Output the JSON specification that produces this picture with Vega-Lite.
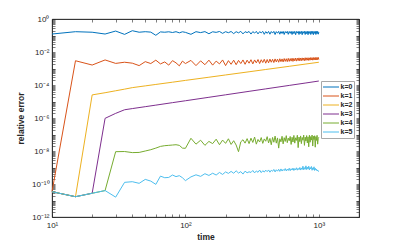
{
"$schema": "https://vega.github.io/schema/vega-lite/v6.json",
"width": 307, "height": 198,
"autosize": {"type": "none"},
"padding": {"left": 52, "top": 19, "right": 38, "bottom": 28},
"background": "white",
"config": {
  "font": "Liberation Sans",
  "view": {"stroke": "#262626", "strokeWidth": 0.8},
  "axis": {"domainColor": "#262626", "tickColor": "#262626", "labelColor": "#262626", "titleColor": "#262626", "labelFont": "Liberation Sans", "labelFontSize": 8, "titleFont": "Liberation Sans", "titleFontSize": 8.5, "titleFontWeight": "bold", "grid": false, "tickSize": -3, "domainWidth": 0.8, "tickWidth": 0.6, "labelOverlap": false, "labelFlush": false, "labelBound": false}
},
"data": {"values": [
{"t":10,"k=0":0.123,"k=1":3.4e-11,"k=2":3.4e-11,"k=3":3.4e-11,"k=4":3.4e-11,"k=5":3.4e-11},
{"t":15,"k=0":0.17,"k=1":2.95e-3,"k=2":1.7e-11,"k=3":1.7e-11,"k=4":1.7e-11,"k=5":1.7e-11},
{"t":20,"k=0":0.158,"k=1":1.62e-3,"k=2":2.51e-5,"k=3":2.75e-11,"k=4":2.75e-11,"k=5":2.75e-11},
{"t":25,"k=0":0.123,"k=1":3.3e-3,"k=2":3.4e-5,"k=3":9.55e-7,"k=4":4.0e-11,"k=5":4.0e-11},
{"t":30,"k=0":0.186,"k=1":2.04e-3,"k=2":4.47e-5,"k=3":1.91e-6,"k=4":9.1e-9,"k=5":1.6e-11},
{"t":35,"k=0":0.117,"k=1":2.4e-3,"k=2":5.6e-5,"k=3":3.16e-6,"k=4":9.3e-9,"k=5":1.26e-10},
{"t":40,"k=0":0.195,"k=1":2.1e-3,"k=2":6.92e-5,"k=3":3.72e-6,"k=4":8.0e-9,"k=5":1.38e-10},
{"t":45,"k=0":0.158,"k=1":1.5e-3,"k=4":8.2e-9,"k=5":1.1e-10},
{"t":50,"k=0":0.17,"k=1":2.6e-3,"k=2":8.85e-5,"k=3":4.85e-6,"k=4":1.0e-8,"k=5":1.9e-10},
{"t":55,"k=0":0.16,"k=1":2.0e-3,"k=4":1.2e-8,"k=5":1.5e-10},
{"t":60,"k=0":0.103,"k=1":3.2e-3,"k=2":1.08e-4,"k=3":6.03e-6,"k=4":1.5e-8,"k=5":9.5e-11},
{"t":65,"k=0":0.165,"k=1":1.9e-3,"k=4":1.9e-8,"k=5":3.0e-10},
{"t":70,"k=0":0.158,"k=1":2.5e-3,"k=4":2.1e-8,"k=5":2.4e-10},
{"t":75,"k=0":0.168,"k=1":1.6e-3,"k=4":2.2e-8,"k=5":2.5e-10},
{"t":80,"k=0":0.152,"k=1":3.0e-3,"k=2":1.48e-4,"k=3":8.51e-6,"k=4":2.3e-8,"k=5":3.5e-10},
{"t":85,"k=0":0.17,"k=1":2.2e-3,"k=4":2.4e-8,"k=5":2.8e-10},
{"t":90,"k=0":0.145,"k=1":1.45e-3,"k=4":2.2e-8,"k=5":3.2e-10},
{"t":95,"k=0":0.168,"k=1":2.8e-3,"k=4":1.5e-8,"k=5":2.4e-10},
{"t":100,"k=0":0.155,"k=1":2.0e-3,"k=2":1.9e-4,"k=3":1.11e-5,"k=4":1.45e-8,"k=5":1.6e-10},
{"t":110,"k=0":0.118,"k=1":3.1e-3,"k=4":5.9e-8,"k=5":2.7e-10},
{"t":120,"k=0":0.17,"k=1":1.5e-3,"k=4":2.6e-8,"k=5":3.6e-10},
{"t":130,"k=0":0.15,"k=1":2.9e-3,"k=4":4.5e-8,"k=5":2.9e-10},
{"t":140,"k=0":0.172,"k=1":1.7e-3,"k=4":2.2e-8,"k=5":4.2e-10},
{"t":150,"k=0":0.128,"k=1":3.2e-3,"k=2":2.96e-4,"k=3":1.80e-5,"k=4":3.8e-8,"k=5":3.3e-10},
{"t":160,"k=0":0.168,"k=1":1.6e-3,"k=4":2.8e-8,"k=5":4.5e-10},
{"t":170,"k=0":0.155,"k=1":2.8e-3,"k=4":5.2e-8,"k=5":3.5e-10},
{"t":180,"k=0":0.175,"k=1":1.9e-3,"k=4":2.4e-8,"k=5":5.0e-10},
{"t":190,"k=0":0.135,"k=1":3.3e-3,"k=4":4.6e-8,"k=5":3.8e-10},
{"t":200,"k=0":0.17,"k=1":1.5e-3,"k=2":4.06e-4,"k=3":2.54e-5,"k=4":2.9e-8,"k=5":5.4e-10},
{"t":210,"k=0":0.148,"k=1":3.0e-3,"k=4":5.5e-8,"k=5":4.4e-10},
{"t":220,"k=0":0.175,"k=1":1.8e-3,"k=4":2.5e-8,"k=5":5.8e-10},
{"t":230,"k=0":0.13,"k=1":3.2e-3,"k=4":4.2e-8,"k=5":4.5e-10},
{"t":240,"k=0":0.17,"k=1":1.7e-3,"k=4":2.3e-8,"k=5":6.3e-10},
{"t":250,"k=0":0.145,"k=1":3.1e-3,"k=4":9.1e-9,"k=5":4.6e-10},
{"t":260,"k=0":0.178,"k=1":2.0e-3,"k=4":3.6e-8,"k=5":5.6e-10},
{"t":270,"k=0":0.125,"k=1":3.3e-3,"k=4":4.8e-8,"k=5":4.0e-10},
{"t":280,"k=0":0.17,"k=1":1.8e-3,"k=4":3.0e-8,"k=5":6.0e-10},
{"t":290,"k=0":0.15,"k=1":3.2e-3,"k=4":5.6e-8,"k=5":4.8e-10},
{"t":300,"k=0":0.175,"k=1":2.1e-3,"k=2":6.34e-4,"k=3":4.13e-5,"k=4":2.8e-8,"k=5":5.5e-10},
{"t":310,"k=0":0.122,"k=1":3.4e-3,"k=4":6.0e-8,"k=5":5.0e-10},
{"t":320,"k=0":0.172,"k=1":1.9e-3,"k=4":3.3e-8,"k=5":6.6e-10},
{"t":330,"k=0":0.14,"k=1":3.3e-3,"k=4":7.0e-8,"k=5":4.7e-10},
{"t":340,"k=0":0.178,"k=1":2.2e-3,"k=4":2.6e-8,"k=5":6.2e-10},
{"t":350,"k=0":0.125,"k=1":3.5e-3,"k=4":5.0e-8,"k=5":5.1e-10},
{"t":360,"k=0":0.17,"k=1":2.0e-3,"k=4":3.5e-8,"k=5":7.0e-10},
{"t":370,"k=0":0.145,"k=1":3.4e-3,"k=4":6.5e-8,"k=5":4.9e-10},
{"t":380,"k=0":0.178,"k=1":2.3e-3,"k=4":2.9e-8,"k=5":6.4e-10},
{"t":390,"k=0":0.118,"k=1":3.6e-3,"k=4":5.4e-8,"k=5":5.3e-10},
{"t":400,"k=0":0.172,"k=1":2.1e-3,"k=2":8.71e-4,"k=3":5.82e-5,"k=4":3.9e-8,"k=5":6.9e-10},
{"t":410,"k=0":0.135,"k=1":3.5e-3,"k=4":7.4e-8,"k=5":5.6e-10},
{"t":420,"k=0":0.176,"k=1":2.2e-3,"k=4":3.1e-8,"k=5":7.1e-10},
{"t":430,"k=0":0.12,"k=1":3.7e-3,"k=4":5.8e-8,"k=5":5.2e-10},
{"t":440,"k=0":0.174,"k=1":2.4e-3,"k=4":2.4e-8,"k=5":6.8e-10},
{"t":450,"k=0":0.14,"k=1":3.6e-3,"k=4":6.6e-8,"k=5":5.9e-10},
{"t":460,"k=0":0.178,"k=1":2.3e-3,"k=4":3.4e-8,"k=5":7.6e-10},
{"t":470,"k=0":0.115,"k=1":3.8e-3,"k=4":8.0e-8,"k=5":5.4e-10},
{"t":480,"k=0":0.172,"k=1":2.5e-3,"k=4":3.0e-8,"k=5":7.3e-10},
{"t":490,"k=0":0.138,"k=1":3.7e-3,"k=4":6.2e-8,"k=5":6.0e-10},
{"t":500,"k=0":0.178,"k=1":2.4e-3,"k=4":1.5e-8,"k=5":7.8e-10},
{"t":510,"k=0":0.12,"k=1":3.9e-3,"k=4":5.5e-8,"k=5":5.8e-10},
{"t":520,"k=0":0.175,"k=1":2.6e-3,"k=4":3.6e-8,"k=5":8.2e-10},
{"t":530,"k=0":0.132,"k=1":3.8e-3,"k=4":7.8e-8,"k=5":6.1e-10},
{"t":540,"k=0":0.178,"k=1":2.5e-3,"k=4":2.7e-8,"k=5":7.6e-10},
{"t":550,"k=0":0.115,"k=1":4.0e-3,"k=4":6.4e-8,"k=5":6.5e-10},
{"t":560,"k=0":0.174,"k=1":2.7e-3,"k=4":3.8e-8,"k=5":8.6e-10},
{"t":570,"k=0":0.14,"k=1":3.9e-3,"k=4":8.5e-8,"k=5":6.2e-10},
{"t":580,"k=0":0.178,"k=1":2.6e-3,"k=4":3.2e-8,"k=5":8.0e-10},
{"t":590,"k=0":0.118,"k=1":4.1e-3,"k=4":6.0e-8,"k=5":6.6e-10},
{"t":600,"k=0":0.175,"k=1":2.7e-3,"k=2":1.36e-3,"k=3":9.44e-5,"k=4":4.2e-8,"k=5":9.0e-10},
{"t":610,"k=0":0.135,"k=1":4.0e-3,"k=4":7.6e-8,"k=5":6.4e-10},
{"t":620,"k=0":0.178,"k=1":2.8e-3,"k=4":2.5e-8,"k=5":8.4e-10},
{"t":630,"k=0":0.115,"k=1":4.2e-3,"k=4":6.8e-8,"k=5":7.0e-10},
{"t":640,"k=0":0.176,"k=1":2.7e-3,"k=4":3.5e-8,"k=5":9.2e-10},
{"t":650,"k=0":0.13,"k=1":4.1e-3,"k=4":8.8e-8,"k=5":6.6e-10},
{"t":660,"k=0":0.178,"k=1":2.9e-3,"k=4":3.0e-8,"k=5":8.6e-10},
{"t":670,"k=0":0.112,"k=1":4.3e-3,"k=4":6.3e-8,"k=5":7.2e-10},
{"t":680,"k=0":0.175,"k=1":2.8e-3,"k=4":4.4e-8,"k=5":9.6e-10},
{"t":690,"k=0":0.14,"k=1":4.2e-3,"k=4":9.0e-8,"k=5":6.9e-10},
{"t":700,"k=0":0.178,"k=1":3.0e-3,"k=4":1.6e-8,"k=5":8.8e-10},
{"t":710,"k=0":0.115,"k=1":4.4e-3,"k=4":7.0e-8,"k=5":7.4e-10},
{"t":720,"k=0":0.176,"k=1":2.9e-3,"k=4":3.7e-8,"k=5":1.0e-9},
{"t":730,"k=0":0.132,"k=1":4.3e-3,"k=4":8.2e-8,"k=5":7.0e-10},
{"t":740,"k=0":0.178,"k=1":3.0e-3,"k=4":2.8e-8,"k=5":9.4e-10},
{"t":750,"k=0":0.112,"k=1":4.4e-3,"k=4":6.6e-8,"k=5":7.6e-10},
{"t":760,"k=0":0.175,"k=1":3.1e-3,"k=4":4.5e-8,"k=5":1.2e-9},
{"t":770,"k=0":0.138,"k=1":4.3e-3,"k=4":9.2e-8,"k=5":7.3e-10},
{"t":780,"k=0":0.178,"k=1":3.0e-3,"k=4":2.2e-8,"k=5":9.8e-10},
{"t":790,"k=0":0.115,"k=1":4.5e-3,"k=4":6.9e-8,"k=5":7.8e-10},
{"t":800,"k=0":0.176,"k=1":3.1e-3,"k=2":1.87e-3,"k=3":1.33e-4,"k=4":4.0e-8,"k=5":1.26e-9},
{"t":810,"k=0":0.13,"k=1":4.4e-3,"k=4":8.6e-8,"k=5":7.5e-10},
{"t":820,"k=0":0.178,"k=1":3.2e-3,"k=4":3.1e-8,"k=5":1.05e-9},
{"t":830,"k=0":0.112,"k=1":4.5e-3,"k=4":7.2e-8,"k=5":8.0e-10},
{"t":840,"k=0":0.175,"k=1":3.1e-3,"k=4":1.8e-8,"k=5":1.2e-9},
{"t":850,"k=0":0.135,"k=1":4.4e-3,"k=4":9.0e-8,"k=5":7.2e-10},
{"t":860,"k=0":0.178,"k=1":3.2e-3,"k=4":3.4e-8,"k=5":1.0e-9},
{"t":870,"k=0":0.115,"k=1":4.6e-3,"k=4":7.5e-8,"k=5":8.2e-10},
{"t":880,"k=0":0.176,"k=1":3.3e-3,"k=4":4.6e-8,"k=5":1.15e-9},
{"t":890,"k=0":0.13,"k=1":4.5e-3,"k=4":9.3e-8,"k=5":6.8e-10},
{"t":900,"k=0":0.178,"k=1":3.2e-3,"k=4":2.0e-8,"k=5":9.5e-10},
{"t":910,"k=0":0.112,"k=1":4.6e-3,"k=4":7.8e-8,"k=5":7.6e-10},
{"t":920,"k=0":0.176,"k=1":3.3e-3,"k=4":4.9e-8,"k=5":1.1e-9},
{"t":930,"k=0":0.135,"k=1":4.5e-3,"k=4":8.4e-8,"k=5":6.6e-10},
{"t":940,"k=0":0.178,"k=1":3.3e-3,"k=4":1.7e-8,"k=5":9.0e-10},
{"t":950,"k=0":0.115,"k=1":4.7e-3,"k=4":7.4e-8,"k=5":7.2e-10},
{"t":960,"k=0":0.176,"k=1":3.4e-3,"k=4":4.4e-8,"k=5":8.0e-10},
{"t":970,"k=0":0.13,"k=1":4.6e-3,"k=4":8.9e-8,"k=5":6.2e-10},
{"t":980,"k=0":0.178,"k=1":3.4e-3,"k=4":2.6e-8,"k=5":7.0e-10},
{"t":990,"k=0":0.12,"k=1":4.7e-3,"k=4":6.0e-8,"k=5":5.9e-10},
{"t":1000,"k=0":0.16,"k=1":3.5e-3,"k=2":2.39e-3,"k=3":1.74e-4,"k=4":6.8e-8,"k=5":5.6e-10}
]},
"transform": [{"fold": ["k=0","k=1","k=2","k=3","k=4","k=5"], "as": ["series","err"]}],
"layer": [
{
 "mark": {"type": "line", "strokeWidth": 1, "invalid": "filter"},
 "encoding": {
  "x": {"field": "t", "type": "quantitative",
        "scale": {"type": "log", "domain": [10, 2000], "nice": false},
        "axis": {"orient": "bottom", "values": [10,20,30,40,50,60,70,80,90,100,200,300,400,500,600,700,800,900,1000,2000],
                 "labelExpr": "datum.value == 10 ? '10¹' : datum.value == 100 ? '10²' : datum.value == 1000 ? '10³' : ''",
                 "title": "time", "labelPadding": 7, "titlePadding": 3}},
  "y": {"field": "err", "type": "quantitative",
        "scale": {"type": "log", "domain": [1e-12, 1], "nice": false},
        "axis": {"orient": "left",
                 "values": [1e-12,2e-12,3e-12,4e-12,5e-12,6e-12,7e-12,8e-12,9e-12,1e-11,2e-11,3e-11,4e-11,5e-11,6e-11,7e-11,8e-11,9e-11,1e-10,2e-10,3e-10,4e-10,5e-10,6e-10,7e-10,8e-10,9e-10,1e-9,2e-9,3e-9,4e-9,5e-9,6e-9,7e-9,8e-9,9e-9,1e-8,2e-8,3e-8,4e-8,5e-8,6e-8,7e-8,8e-8,9e-8,1e-7,2e-7,3e-7,4e-7,5e-7,6e-7,7e-7,8e-7,9e-7,1e-6,2e-6,3e-6,4e-6,5e-6,6e-6,7e-6,8e-6,9e-6,1e-5,2e-5,3e-5,4e-5,5e-5,6e-5,7e-5,8e-5,9e-5,1e-4,2e-4,3e-4,4e-4,5e-4,6e-4,7e-4,8e-4,9e-4,1e-3,2e-3,3e-3,4e-3,5e-3,6e-3,7e-3,8e-3,9e-3,1e-2,2e-2,3e-2,4e-2,5e-2,6e-2,7e-2,8e-2,9e-2,1e-1,2e-1,3e-1,4e-1,5e-1,6e-1,7e-1,8e-1,9e-1,1],
                 "labelExpr": "datum.value == 1 ? '10⁰' : datum.value == 1e-2 ? '10⁻²' : datum.value == 1e-4 ? '10⁻⁴' : datum.value == 1e-6 ? '10⁻⁶' : datum.value == 1e-8 ? '10⁻⁸' : datum.value == 1e-10 ? '10⁻¹⁰' : datum.value == 1e-12 ? '10⁻¹²' : ''",
                 "title": "relative error", "labelPadding": 6, "titlePadding": 6}},
  "color": {"field": "series", "type": "nominal",
            "scale": {"domain": ["k=0","k=1","k=2","k=3","k=4","k=5"], "range": ["#0072BD","#D95319","#EDB120","#7E2F8E","#77AC30","#4DBEEE"]},
            "legend": {"title": null, "orient": "none", "legendX": 269, "legendY": 62, "symbolType": "stroke", "symbolSize": 256, "symbolStrokeWidth": 1, "clipHeight": 9, "labelFontSize": 7, "labelFont": "Liberation Sans", "labelFontWeight": "bold", "labelColor": "#262626", "labelOffset": 1, "padding": 1.5, "rowPadding": 0, "fillColor": "white", "strokeColor": "#a8a8a8"}}
 }
},
{
 "mark": {"type": "line", "strokeWidth": 1, "opacity": 0, "invalid": "filter"},
 "encoding": {
  "x": {"field": "t", "type": "quantitative",
        "axis": {"orient": "top", "values": [10,20,30,40,50,60,70,80,90,100,200,300,400,500,600,700,800,900,1000,2000], "labels": false, "title": null}},
  "y": {"field": "err", "type": "quantitative",
        "axis": {"orient": "right", "values": [1e-12,2e-12,3e-12,4e-12,5e-12,6e-12,7e-12,8e-12,9e-12,1e-11,2e-11,3e-11,4e-11,5e-11,6e-11,7e-11,8e-11,9e-11,1e-10,2e-10,3e-10,4e-10,5e-10,6e-10,7e-10,8e-10,9e-10,1e-9,2e-9,3e-9,4e-9,5e-9,6e-9,7e-9,8e-9,9e-9,1e-8,2e-8,3e-8,4e-8,5e-8,6e-8,7e-8,8e-8,9e-8,1e-7,2e-7,3e-7,4e-7,5e-7,6e-7,7e-7,8e-7,9e-7,1e-6,2e-6,3e-6,4e-6,5e-6,6e-6,7e-6,8e-6,9e-6,1e-5,2e-5,3e-5,4e-5,5e-5,6e-5,7e-5,8e-5,9e-5,1e-4,2e-4,3e-4,4e-4,5e-4,6e-4,7e-4,8e-4,9e-4,1e-3,2e-3,3e-3,4e-3,5e-3,6e-3,7e-3,8e-3,9e-3,1e-2,2e-2,3e-2,4e-2,5e-2,6e-2,7e-2,8e-2,9e-2,1e-1,2e-1,3e-1,4e-1,5e-1,6e-1,7e-1,8e-1,9e-1,1], "labels": false, "title": null}},
  "detail": {"field": "series", "type": "nominal"}
 }
}
],
"resolve": {"axis": {"x": "independent", "y": "independent"}}
}
